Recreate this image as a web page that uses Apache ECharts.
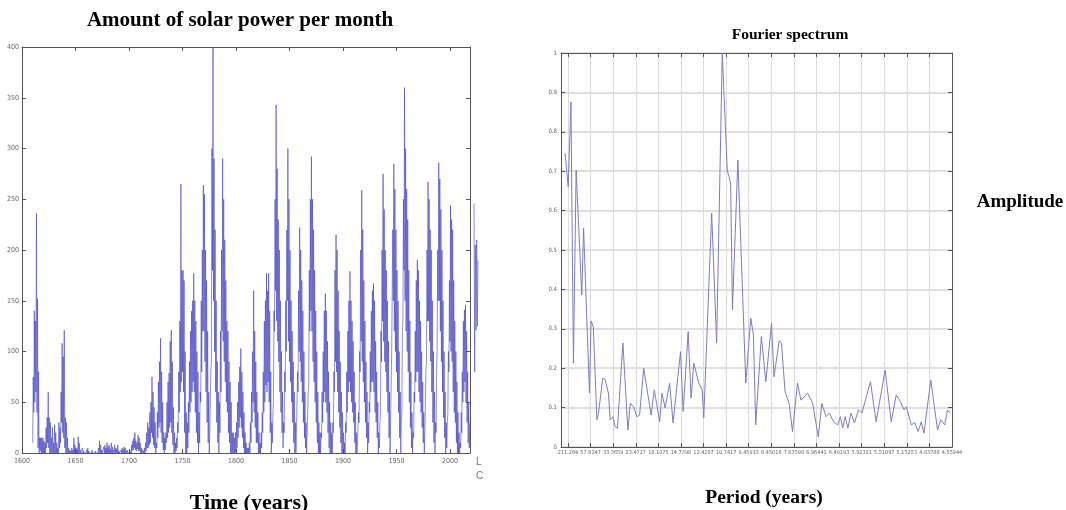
<!DOCTYPE html>
<html><head><meta charset="utf-8">
<script src="https://cdn.jsdelivr.net/npm/echarts@6/dist/echarts.min.js"></script>
<style>html,body{margin:0;padding:0;background:#fff}#c{width:1066px;height:510px}</style>
</head><body><div id="c"></div>
<script>
// ---------- Left chart: monthly solar activity, read as yearly upper / lower envelope ----------
const startYear = 1610;
const hiVals = [
75,140,130,236,152,80,15,15,15,15,
12,10,25,35,60,35,30,15,25,10,
28,20,10,5,30,25,60,108,95,121,
35,30,15,5,3,2,5,3,15,8,
5,4,16,10,3,0,5,2,0,0,
3,5,2,0,0,3,0,0,2,0,
0,5,12,8,3,0,6,8,5,10,
6,8,4,10,6,3,8,5,4,8,
2,0,3,5,4,6,5,2,3,0,
0,2,8,12,15,20,12,10,18,15,
10,5,3,2,5,10,20,30,25,40,
50,75,60,45,30,10,40,70,90,113,
80,50,20,15,20,50,70,79,110,121,
90,45,20,10,15,30,80,130,265,180,
180,170,100,40,30,50,90,120,140,150,
177,150,130,100,80,40,60,150,200,264,
255,200,170,120,60,20,80,300,400,290,
220,150,90,60,50,120,200,290,250,210,
170,130,120,90,70,50,20,20,15,20,
30,50,70,85,103,80,60,40,20,10,
5,5,10,30,60,100,160,120,90,60,
40,20,10,20,40,80,130,150,177,160,
177,140,80,30,40,140,250,343,280,230,
200,150,100,60,30,80,150,220,300,250,
200,150,120,90,60,30,20,80,160,222,
200,170,140,100,60,30,20,60,180,250,
292,250,220,180,140,100,60,30,20,20,
60,100,140,157,140,110,80,50,30,20,
30,80,180,215,200,160,120,90,60,40,
20,10,30,80,120,150,179,150,130,110,
80,50,20,10,40,100,200,259,220,170,
130,90,60,30,50,100,140,160,167,150,
110,80,50,20,30,120,200,275,240,200,
180,150,110,60,30,100,220,285,260,220,
180,150,100,60,30,120,250,360,300,260,
230,180,130,80,40,20,60,120,170,190,
180,150,130,100,70,40,20,80,200,267,
250,220,200,150,100,60,30,80,200,286,
270,240,200,150,100,60,30,30,100,170,
244,230,220,170,130,100,70,40,20,10,
40,80,130,141,146,120,80,50,30
];
const loVals = [
10,40,50,60,40,5,0,2,0,0,
0,0,0,5,10,5,0,0,0,0,
0,0,0,0,0,5,10,30,20,15,
5,0,0,0,0,0,0,0,0,0,
0,0,0,0,0,0,0,0,0,0,
0,0,0,0,0,0,0,0,0,0,
0,0,0,0,0,0,0,0,0,0,
0,0,0,0,0,0,0,0,0,0,
0,0,0,0,0,0,0,0,0,0,
0,0,0,2,3,5,3,2,4,2,
2,0,0,0,0,0,2,5,5,8,
10,20,15,8,5,0,5,15,25,30,
20,10,3,0,3,10,15,20,25,30,
20,8,0,0,2,5,20,40,60,70,
80,60,20,0,0,5,20,40,50,60,
70,60,40,20,10,0,10,50,80,120,
120,90,60,30,10,0,20,90,180,150,
100,60,30,10,0,20,60,120,110,90,
70,50,40,20,10,0,0,0,0,0,
0,5,15,25,35,25,15,5,0,0,
0,0,0,0,10,30,50,40,25,10,
10,0,0,0,5,20,40,50,67,60,
70,50,20,0,10,50,120,160,130,110,
90,60,40,20,5,20,60,100,150,110,
90,70,50,30,10,0,0,20,60,100,
90,70,50,30,15,5,0,20,70,120,
140,120,90,70,50,30,10,0,0,0,
15,30,50,60,50,40,20,5,0,0,
0,20,60,90,80,60,40,25,10,0,
0,0,0,20,40,60,70,60,50,40,
30,10,0,0,10,30,80,110,90,70,
50,30,15,0,10,40,60,70,70,60,
40,30,15,0,5,40,90,130,110,90,
80,60,40,15,0,30,100,150,120,100,
80,60,40,15,0,40,130,180,150,120,
100,80,50,25,5,0,15,50,70,80,
80,60,50,40,25,10,0,20,90,130,
130,110,90,60,30,10,0,20,100,150,
150,120,90,60,35,15,0,5,40,80,
110,100,90,60,40,30,10,0,0,0,
5,20,50,60,70,50,30,10,5
];
const yearTicks = [1600,1650,1700,1750,1800,1850,1900,1950,2000];
const powerTicks = [0,50,100,150,200,250,300,350,400];
// cut-off strip of a neighbouring panel at the right edge of the left chart
const stripVals = [246,80,205,121,210,125,190];

// ---------- Right chart: Fourier spectrum ----------
const periodLabels = ["211.264","57.6147","33.3659","23.4727","18.1075","14.7398","12.4297","10.7417","9.45913","8.45016","7.63598","6.96441","6.40193","5.92301","5.51097","5.15253","4.83788","4.55944"];
const specIdx = [-0.13,0.01,0.13,0.24,0.36,0.61,0.69,0.95,1.02,1.12,1.28,1.35,1.54,1.64,1.79,1.87,1.99,2.09,2.19,2.43,2.65,2.76,2.9,3.05,3.17,3.35,3.68,3.82,4.06,4.16,4.3,4.5,4.65,4.98,5.1,5.32,5.45,5.57,5.79,5.94,6.01,6.36,6.58,6.83,7.05,7.2,7.28,7.52,7.87,8.09,8.21,8.31,8.56,8.76,9.01,9.12,9.35,9.45,9.61,9.79,9.94,10.16,10.31,10.61,10.83,11.08,11.24,11.42,11.57,11.76,11.94,12.06,12.16,12.27,12.39,12.53,12.68,12.86,13.01,13.39,13.64,14.04,14.31,14.53,14.68,14.88,14.98,15.2,15.35,15.5,15.64,15.76,16.06,16.36,16.5,16.68,16.8,16.9];
const specAmp = [0.746,0.66,0.876,0.213,0.703,0.386,0.555,0.137,0.32,0.305,0.069,0.086,0.175,0.172,0.137,0.069,0.077,0.051,0.048,0.264,0.043,0.111,0.102,0.077,0.081,0.2,0.081,0.145,0.064,0.137,0.099,0.162,0.061,0.242,0.09,0.293,0.124,0.213,0.162,0.145,0.074,0.594,0.264,1.0,0.703,0.67,0.348,0.728,0.162,0.327,0.284,0.056,0.28,0.166,0.314,0.178,0.27,0.264,0.14,0.111,0.039,0.162,0.119,0.137,0.111,0.026,0.111,0.077,0.086,0.064,0.056,0.077,0.048,0.077,0.048,0.086,0.061,0.094,0.086,0.166,0.064,0.195,0.064,0.132,0.119,0.094,0.102,0.056,0.062,0.039,0.064,0.035,0.17,0.043,0.069,0.056,0.094,0.086];
const ampTicks = [0,0.1,0.2,0.3,0.4,0.5,0.6,0.7,0.8,0.9,1];

// build the dense monthly-looking trace: each year drawn from its low to its high envelope value
const solarData = [];
for (let i = 0; i < hiVals.length; i++) {
  const y = startYear + i;
  solarData.push([y, loVals[i]]);
  solarData.push([y + 0.5, hiVals[i]]);
}
const specData = specIdx.map((x, i) => [x, specAmp[i]]);
const stripData = stripVals.map((v, i) => [i, v]);

const serif = '"Liberation Serif","Times New Roman",serif';
const axisCol = '#555';
const tickFont = {color:'#666', fontSize:7, fontFamily:'"Liberation Sans Narrow","DejaVu Sans Condensed",sans-serif'};
const titleStyle = (s) => ({fontFamily:serif, fontWeight:'bold', fontSize:s, color:'#000'});

const chart = echarts.init(document.getElementById('c'), null, {renderer:'canvas'});
chart.setOption({
  animation:false,
  backgroundColor:'#fff',
  title:[
    {text:'Amount of solar power per month', left:235, top:5, textAlign:'center', textStyle:titleStyle(21)},
    {text:'Time (years)', left:244, top:487, textAlign:'center', textStyle:titleStyle(22)},
    {text:'Fourier spectrum', left:785, top:22, textAlign:'center', textStyle:titleStyle(15.5)},
    {text:'Period (years)', left:759, top:483, textAlign:'center', textStyle:titleStyle(19.5)},
    {text:'Amplitude', left:1015, top:188, textAlign:'center', textStyle:titleStyle(19)},
    {text:'L', left:471, top:452, textStyle:{color:'#777', fontSize:10, fontWeight:'normal', fontFamily:'"Liberation Sans",sans-serif'}},
    {text:'C', left:471, top:466, textStyle:{color:'#777', fontSize:10, fontWeight:'normal', fontFamily:'"Liberation Sans",sans-serif'}}
  ],
  grid:[
    {left:22, top:47, width:448, height:406, containLabel:false},
    {left:561, top:53, width:391, height:394, containLabel:false},
    {left:474, top:47, width:4, height:406, containLabel:false}
  ],
  xAxis:[
    {gridIndex:0, type:'value', min:yearTicks[0], max:2018.7, interval:50, position:'bottom',
     axisLine:{onZero:false, lineStyle:{color:axisCol, width:1}},
     axisTick:{inside:true, length:4, lineStyle:{color:axisCol}},
     axisLabel:{...tickFont, margin:5, showMaxLabel:false, formatter:v=>String(v)},
     splitLine:{show:false}},
    {gridIndex:0, type:'value', min:yearTicks[0], max:2018.7, interval:50, position:'top',
     axisLine:{onZero:false, lineStyle:{color:axisCol, width:1}},
     axisTick:{inside:true, length:4, lineStyle:{color:axisCol}},
     axisLabel:{show:false}, splitLine:{show:false}},
    {gridIndex:1, type:'value', min:-0.31, max:17, position:'bottom',
     axisLine:{onZero:false, lineStyle:{color:axisCol, width:1}},
     axisTick:{inside:true, length:4, lineStyle:{color:axisCol}, customValues:periodLabels.map((s,i)=>i)},
     axisLabel:{...tickFont, fontSize:5.5, margin:3, customValues:periodLabels.map((s,i)=>i), formatter:v=>periodLabels[Math.round(v)]},
     splitLine:{show:true, lineStyle:{color:'#dcdcdc', width:1}}},
    {gridIndex:1, type:'value', min:-0.31, max:17, position:'top',
     axisLine:{onZero:false, lineStyle:{color:axisCol, width:1}},
     axisTick:{inside:true, length:4, lineStyle:{color:axisCol}, customValues:periodLabels.map((s,i)=>i)},
     axisLabel:{show:false}, splitLine:{show:false}},
    {gridIndex:2, type:'value', min:0, max:stripVals.length-1, show:false}
  ],
  yAxis:[
    {gridIndex:0, type:'value', min:powerTicks[0], max:powerTicks[powerTicks.length-1], interval:50, position:'left',
     axisLine:{show:true, onZero:false, lineStyle:{color:axisCol, width:1}},
     axisTick:{show:true, inside:true, length:4, lineStyle:{color:axisCol}},
     axisLabel:{...tickFont, margin:3}, splitLine:{show:false}},
    {gridIndex:0, type:'value', min:powerTicks[0], max:powerTicks[powerTicks.length-1], interval:50, position:'right',
     axisLine:{show:true, onZero:false, lineStyle:{color:axisCol, width:1}},
     axisTick:{show:true, inside:true, length:4, lineStyle:{color:axisCol}},
     axisLabel:{show:false}, splitLine:{show:false}},
    {gridIndex:1, type:'value', min:ampTicks[0], max:ampTicks[ampTicks.length-1], interval:0.1, position:'left',
     axisLine:{show:true, onZero:false, lineStyle:{color:axisCol, width:1}},
     axisTick:{show:true, inside:true, length:4, lineStyle:{color:axisCol}},
     axisLabel:{...tickFont, fontSize:6, margin:4, formatter:v=>String(+v.toFixed(1))},
     splitLine:{show:true, lineStyle:{color:'#d6d6d6', width:1.5}}},
    {gridIndex:1, type:'value', min:ampTicks[0], max:ampTicks[ampTicks.length-1], interval:0.1, position:'right',
     axisLine:{show:true, onZero:false, lineStyle:{color:axisCol, width:1}},
     axisTick:{show:true, inside:true, length:4, lineStyle:{color:axisCol}},
     axisLabel:{show:false}, splitLine:{show:false}},
    {gridIndex:2, type:'value', min:powerTicks[0], max:powerTicks[powerTicks.length-1], show:false}
  ],
  series:[
    {type:'line', xAxisIndex:0, yAxisIndex:0, data:solarData, showSymbol:false, symbol:'none',
     lineStyle:{color:'#3b3bc0', width:0.8, opacity:0.72}, clip:true},
    {type:'line', xAxisIndex:2, yAxisIndex:2, data:specData, showSymbol:false, symbol:'none',
     lineStyle:{color:'#7c7cc4', width:1}, clip:true},
    {type:'line', xAxisIndex:4, yAxisIndex:4, data:stripData, showSymbol:false, symbol:'none',
     lineStyle:{color:'#5a5ac0', width:1, opacity:0.7}, clip:false}
  ]
});
</script></body></html>
